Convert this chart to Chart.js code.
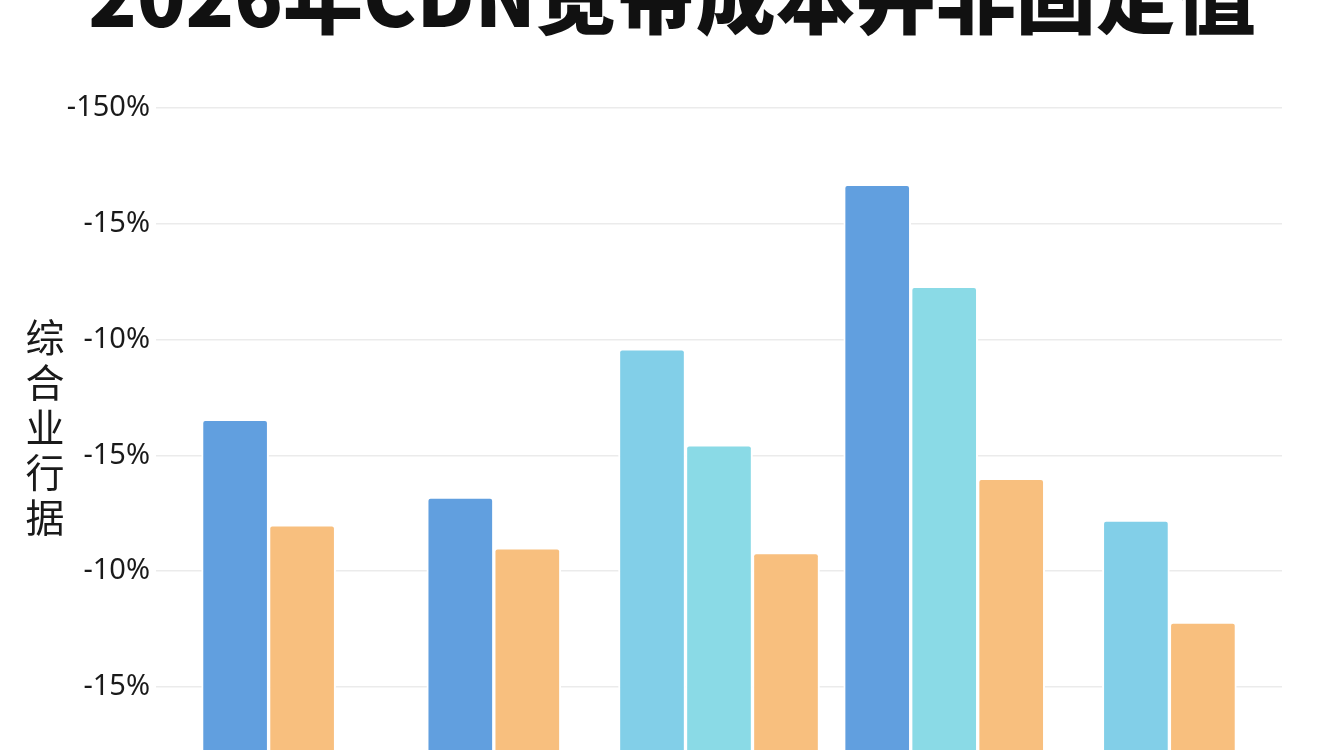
<!DOCTYPE html>
<html lang="zh-CN">
<head>
<meta charset="utf-8">
<title>2026年CDN宽带成本并非固定值</title>
<script src="https://cdn.jsdelivr.net/npm/chart.js@4/dist/chart.umd.min.js"></script>
<style>
  html, body { margin: 0; padding: 0; background: #fff; overflow: hidden; }
  body { width: 1344px; height: 750px; position: relative; }
  #wrap { position: absolute; left: 0; top: -43px; width: 1344px; height: 869px; }
  #yTitle {
    position: absolute; left: 23px; top: 313px; width: 44px;
    font-family: "Noto Sans CJK SC", sans-serif; font-size: 39px; line-height: 45px;
    color: #1a1a1a; text-align: center; word-break: break-all;
  }
</style>
</head>
<body>
<div id="wrap"><canvas id="chart"></canvas></div>
<div id="yTitle">综合业行据</div>
<script>
  // 数据（从图上估读，单位为网格格数）
  const categories = ['1', '2', '3', '4', '5'];
  const blueValues = [3.31, 2.64, null, 5.34, null];
  const skyValues = [null, null, 3.92, null, 2.44];
  const cyanValues = [null, null, 3.09, 4.46, null];
  const orangeValues = [2.40, 2.20, 2.16, 2.80, 1.56];
  const yTickLabels = ['', '-15%', '-10%', '-15%', '-10%', '-15%', '-150%'];

  const colors = {
    blue: '#619fdf',
    sky: '#82cfe8',
    cyan: '#8adae6',
    orange: '#f8bf7e',
    text: '#1a1a1a',
    grid: '#ebebeb',
  };

  function barSet(label, data, color) {
    return {
      label,
      data,
      backgroundColor: color,
      borderColor: '#ffffff',
      borderWidth: 2,
      borderSkipped: 'start',
      borderRadius: 4,
      barThickness: 67,
    };
  }

  new Chart(document.getElementById('chart'), {
    type: 'bar',
    data: {
      labels: categories,
      datasets: [
        barSet('蓝', blueValues, colors.blue),
        barSet('浅蓝', skyValues, colors.sky),
        barSet('青', cyanValues, colors.cyan),
        barSet('橙', orangeValues, colors.orange),
      ],
    },
    options: {
      responsive: true,
      maintainAspectRatio: false,
      animation: false,
      skipNull: true,
      layout: { padding: { left: 62, right: 62, top: 0, bottom: 0 } },
      plugins: {
        legend: { display: false },
        tooltip: { enabled: false },
        title: {
          display: true,
          text: '2026年CDN宽带成本并非固定值',
          color: '#111',
          font: { family: '"Noto Sans CJK SC", sans-serif', size: 80, weight: '900', lineHeight: 1 },
          padding: { top: 0, bottom: 71 },
        },
      },
      scales: {
        x: { display: false },
        y: {
          min: 0,
          max: 6,
          border: { display: false },
          grid: { color: colors.grid, lineWidth: 1.5, drawTicks: false },
          ticks: {
            stepSize: 1,
            padding: 6,
            color: colors.text,
            font: { family: '"Noto Sans", sans-serif', size: 29 },
            callback: (v) => yTickLabels[v],
          },
          afterFit: (scale) => { scale.width = 94; },
        },
      },
    },
  });
</script>
</body>
</html>
